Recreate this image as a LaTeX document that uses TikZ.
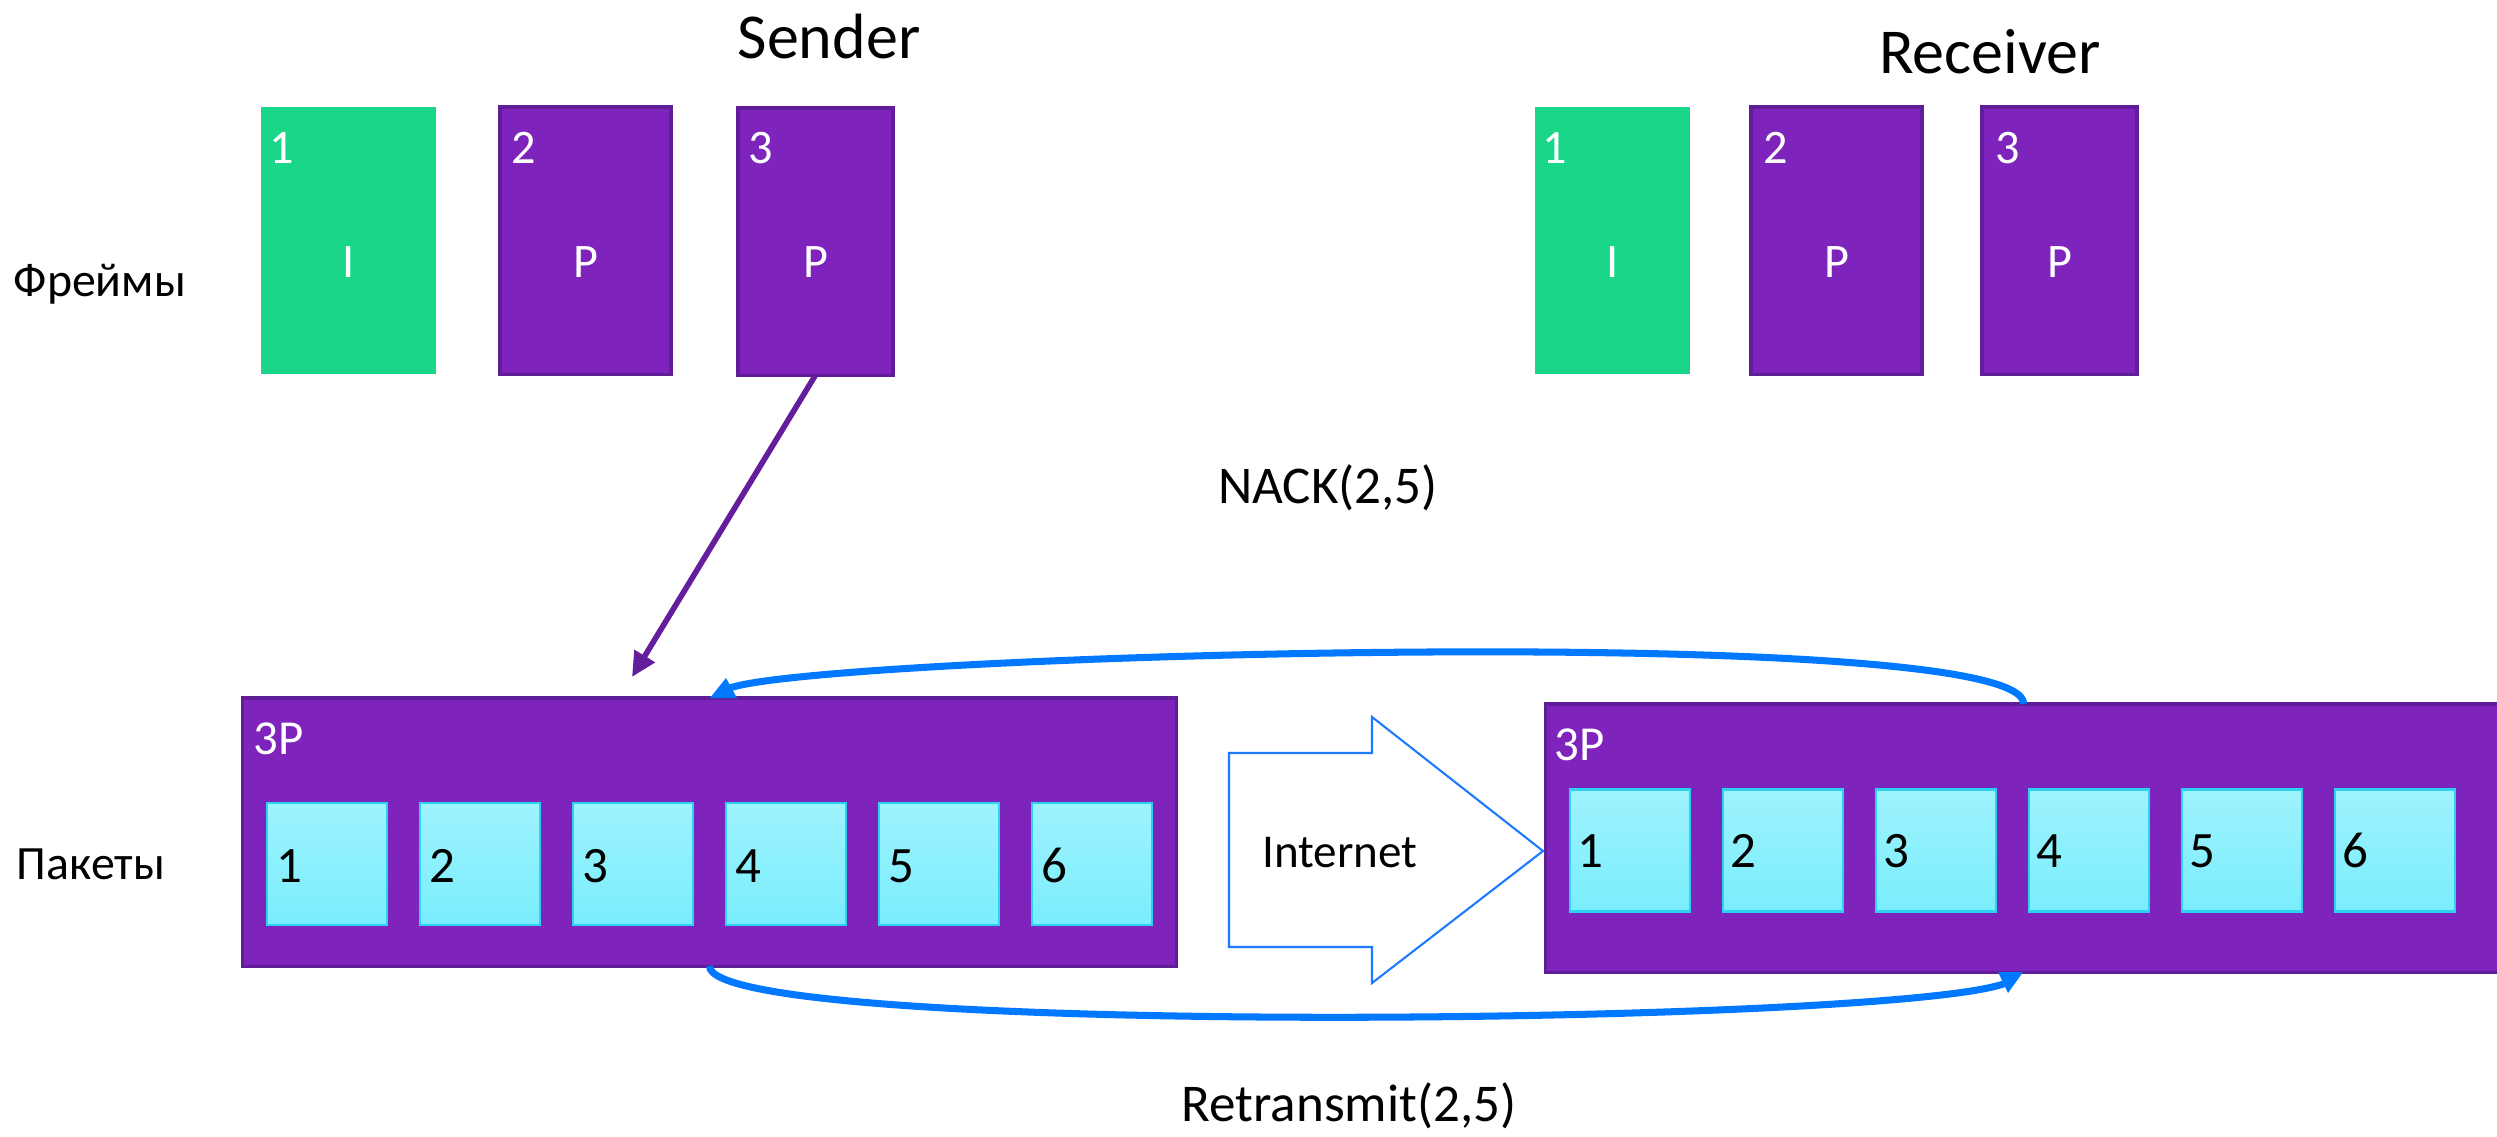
\documentclass[tikz,border=0pt]{standalone}
\usepackage{fontspec}
\setmainfont{Carlito}
\usetikzlibrary{arrows.meta,calc}
\definecolor{fgreen}{RGB}{25,214,137}
\definecolor{fpurple}{RGB}{126,36,189}
\definecolor{fpurpled}{RGB}{95,30,152}
\definecolor{pcyanT}{RGB}{158,243,254}
\definecolor{pcyanB}{RGB}{122,237,252}
\definecolor{pcyanL}{RGB}{45,210,240}
\definecolor{nblue}{RGB}{0,120,255}
\definecolor{iblue}{RGB}{30,123,255}
\definecolor{aparrow}{RGB}{101,30,155}
\newcommand\setfs[1]{\fontsize{#1}{#1}\selectfont}
\begin{document}
\begin{tikzpicture}[x=0.01cm,y=-0.01cm,
  box/.style={rectangle, inner sep=0pt, outer sep=0pt},
  gframe/.style={box, fill=fgreen, minimum height=2.67cm},
  pframe/.style={box, fill=fpurple, draw=fpurpled, line width=0.9pt, minimum height=2.67cm},
  pkt/.style={box, fill=fpurple, draw=fpurpled, line width=0.9pt, minimum height=2.68cm},
  cell/.style={box, top color=pcyanT, bottom color=pcyanB, draw=pcyanL, line width=0.6pt, minimum width=1.2cm, minimum height=1.22cm},
  wnum/.style={inner sep=0pt, text=white, font=\setfs{13.7pt}, anchor=base west},
  wlet/.style={inner sep=0pt, text=white, font=\setfs{13.7pt}, anchor=base},
  cnum/.style={inner sep=0pt, text=black, font=\setfs{14.5pt}, anchor=base west},
  title/.style={inner sep=0pt, text=black, font=\setfs{18.2pt}, anchor=base},
  side/.style={inner sep=0pt, text=black, font=\setfs{13.6pt}, anchor=base west},
  msg/.style={inner sep=0pt, text=black, font=\setfs{15.1pt}, anchor=base},
  nackline/.style={nblue, line width=2pt},
]
\useasboundingbox (0,0) rectangle (2497,1136);
\fill[white] (0,0) rectangle (2497,1136);

% titles
\node[title] (sender) at (829,58) {Sender};
\node[title] (receiver) at (1990,73) {Receiver};
\node[side] (frames) at (13,296) {Фреймы};
\node[side] (packets) at (16,879) {Пакеты};

% sender frames
\node[gframe, minimum width=1.75cm] (F1) at (348.5,240.5) {};
\node[pframe, minimum width=1.71cm] (F2) at (585.5,240.5) {};
\node[pframe, minimum width=1.55cm] (F3) at (815.5,241.5) {};
\node[wnum] (F1n) at (269,163) {1};
\node[wnum] (F2n) at (511,163) {2};
\node[wnum] (F3n) at (748,163) {3};
\node[wlet] (F1l) at (348.5,277) {I};
\node[wlet] (F2l) at (585.5,277) {P};
\node[wlet] (F3l) at (815.5,277) {P};

% receiver frames
\node[gframe, minimum width=1.55cm] (R1) at (1612.5,240.5) {};
\node[pframe, minimum width=1.71cm] (R2) at (1836.5,240.5) {};
\node[pframe, minimum width=1.55cm] (R3) at (2059.5,240.5) {};
\node[wnum] (R1n) at (1542,163) {1};
\node[wnum] (R2n) at (1763,163) {2};
\node[wnum] (R3n) at (1995,163) {3};
\node[wlet] (R1l) at (1612.5,277) {I};
\node[wlet] (R2l) at (1836.5,277) {P};
\node[wlet] (R3l) at (2059.5,277) {P};

% packet containers
\node[pkt, minimum width=9.33cm] (sbox) at (709.5,832) {};
\node[pkt, minimum width=9.64cm] (rbox) at (2028,838) {};
\node[wnum, font=\setfs{13.9pt}] (s3p) at (253,754) {3P};
\node[wnum, font=\setfs{13.9pt}] (r3p) at (1554,760) {3P};

% sender cells
\foreach \i in {1,...,6}{
  \node[cell] (s\i) at ({267+153*(\i-1)+60},864) {};
  \node[cnum] (s\i n) at ({267+153*(\i-1)+9},882) {\i};
}
% receiver cells
\foreach \i in {1,...,6}{
  \node[cell] (r\i) at ({1570+153*(\i-1)+60},850.5) {};
  \node[cnum] (r\i n) at ({1570+153*(\i-1)+7},867) {\i};
}

% Internet arrow
\draw[iblue, line width=0.6pt, fill=white] (1229,753) -- (1372,753) -- (1372,717) -- (1543,851) -- (1372,983) -- (1372,947) -- (1229,947) -- cycle;
\node[inner sep=0pt, font=\setfs{13.4pt}, anchor=base] (inet) at (1340,867) {Internet};

% messages
\node[msg] (nack) at (1328,503) {NACK(2,5)};
\node[msg] (retr) at (1349,1121) {Retransmit(2,5)};

% frame -> packets arrow
\coordinate (ptip) at (632,677);
\draw[aparrow, line width=1.6pt, -{Triangle[length=7pt,width=6.5pt]}] (F3.south) -- (ptip);

% NACK curve
\coordinate (nackA) at ($(rbox.north west)+(478,0)$);
\coordinate (nackB) at (730,688);
\draw[nackline] (nackA) .. controls (2024,620) and (820,655) .. (nackB);
\fill[nblue] (726,678) -- (737,698) -- (710,698) -- cycle;

% Retransmit curve
\coordinate (retA) at (sbox.south);
\coordinate (retB) at (2006,983);
\draw[nackline] (retA) .. controls (710,1038) and (1900,1025) .. (retB);
\fill[nblue] (1998,972) -- (2023,972) -- (2008,993) -- cycle;
\end{tikzpicture}
\end{document}
